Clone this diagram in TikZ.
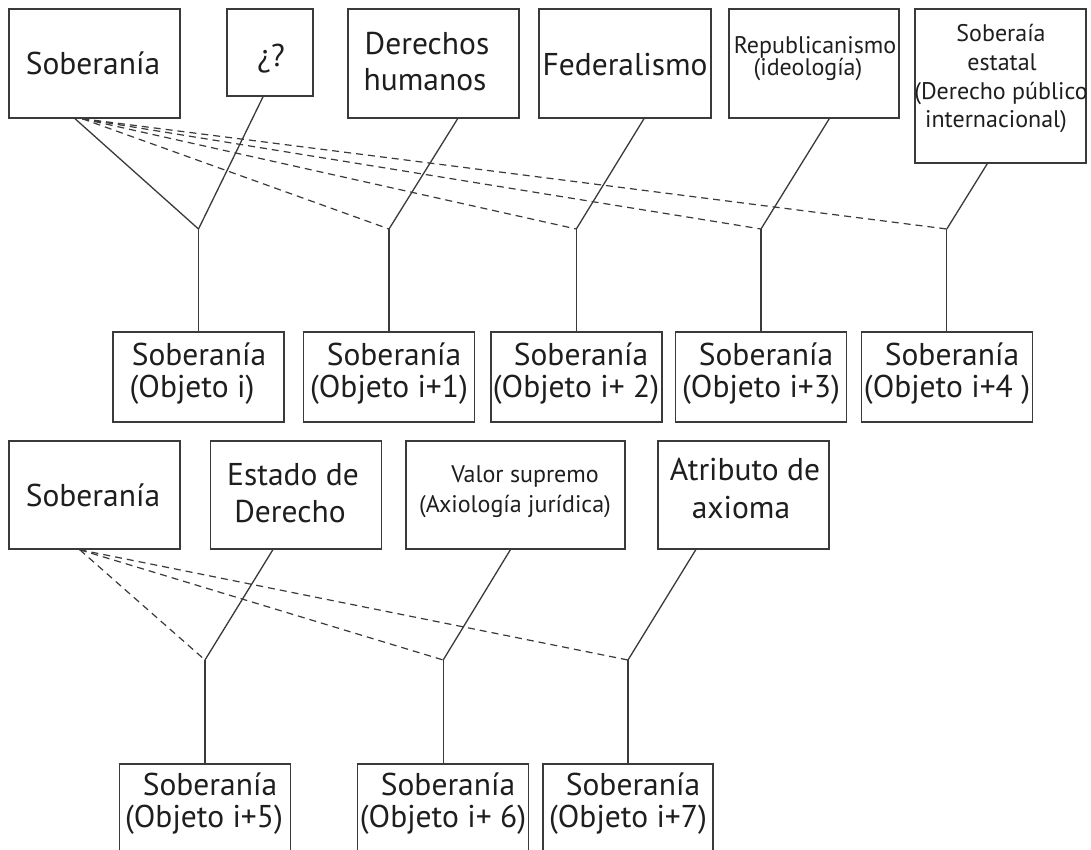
\documentclass[tikz,border=0pt]{standalone}
\usepackage{fontspec}
\setmainfont{PT Sans}
\usetikzlibrary{calc}
\definecolor{ink}{HTML}{1E1E1E}
\definecolor{wire}{HTML}{3A3A3A}
\begin{document}
\begin{tikzpicture}[x=1pt,y=-1pt,
  box/.style={draw=wire, line width=1.5pt, inner sep=0pt},
  big/.style={font=\fontsize{31.5}{31.5}\selectfont, text=ink, anchor=base, inner sep=0pt},
  small/.style={font=\fontsize{24}{24}\selectfont, text=ink, anchor=base, inner sep=0pt},
  link/.style={draw=wire, line width=1.3pt},
  dline/.style={draw=wire, line width=1.2pt, dash pattern=on 7pt off 5pt}]
\clip (0,0) rectangle (1091,850);
\fill[white] (0,0) rectangle (1091,850);

% ---------- upper group: concept boxes ----------
\node[box, minimum width=171pt, minimum height=109pt] (sob1) at (94.5,63.5) {};
\node[box, minimum width=86pt,  minimum height=87pt]  (q)    at (270,52.5) {};
\node[box, minimum width=171pt, minimum height=109pt] (dh)   at (433.5,63.5) {};
\node[box, minimum width=172pt, minimum height=109pt] (fed)  at (625,63.5) {};
\node[box, minimum width=170pt, minimum height=109pt] (rep)  at (814,63.5) {};
\node[box, minimum width=171pt, minimum height=154pt] (se)   at (1000.5,86) {};

\node[big] (t-sob1) at (93,75) {Soberanía};
\node[big] (t-q) at (271,67) {¿?};
\node[big] (t-dh1) at (427,55) {Derechos};
\node[big] (t-dh2) at (425,91) {humanos};
\node[big] (t-fed) at (625,76) {Federalismo};
\node[small] (t-rep1) at (815,54) {Republicanismo};
\node[small] (t-rep2) at (808,76) {(ideología)};
\node[small] (t-se1) at (1001,42) {Soberaía};
\node[small] (t-se2) at (1002,71) {estatal};
\node[small] (t-se3) at (1001,100) {(Derecho público};
\node[small] (t-se4) at (996,128) {internacional)};

% ---------- upper group: result boxes ----------
\node[box, minimum width=171pt, minimum height=90pt] (o0) at (198.5,377) {};
\node[box, minimum width=171pt, minimum height=90pt] (o1) at (389,377) {};
\node[box, minimum width=171pt, minimum height=90pt] (o2) at (576.3,377) {};
\node[box, minimum width=171pt, minimum height=90pt] (o3) at (761,377) {};
\node[box, minimum width=171pt, minimum height=90pt] (o4) at (946.8,377) {};

\node[big] (t-o0a) at (199,365) {Soberanía};
\node[big] (t-o0b) at (192,397) {(Objeto i)};
\node[big] (t-o1a) at (394,365) {Soberanía};
\node[big] (t-o1b) at (389,397) {(Objeto i+1)};
\node[big] (t-o2a) at (581,365) {Soberanía};
\node[big] (t-o2b) at (576,397) {(Objeto i+ 2)};
\node[big] (t-o3a) at (766,365) {Soberanía};
\node[big] (t-o3b) at (761,397) {(Objeto i+3)};
\node[big] (t-o4a) at (952,365) {Soberanía};
\node[big] (t-o4b) at (947,397) {(Objeto i+4 )};

% junction points
\coordinate (j1) at (198.5,229);
\coordinate (j2) at (389,229);
\coordinate (j3) at (576.3,229);
\coordinate (j4) at (761,229);
\coordinate (j5) at (946.8,229);

% solid branches
\draw[link] ([xshift=66.8pt]sob1.south west) -- (j1);
\draw[link] ([xshift=36.8pt]q.south west) -- (j1);
\draw[link] ([xshift=110.4pt]dh.south west) -- (j2);
\draw[link] ([xshift=105.7pt]fed.south west) -- (j3);
\draw[link] ([xshift=101pt]rep.south west) -- (j4);
\draw[link] ([xshift=73pt]se.south west) -- (j5);
% dashed branches from Soberanía
\draw[dline] ([xshift=74pt]sob1.south west) -- (j2);
\draw[dline] ([xshift=74pt]sob1.south west) -- (j3);
\draw[dline] ([xshift=74pt]sob1.south west) -- (j4);
\draw[dline] ([xshift=74pt]sob1.south west) -- (j5);
% stems
\draw[link] (j1) -- (j1 |- o0.north);
\draw[link] (j2) -- (j2 |- o1.north);
\draw[link] (j3) -- (j3 |- o2.north);
\draw[link] (j4) -- (j4 |- o3.north);
\draw[link] (j5) -- (j5 |- o4.north);

% ---------- lower group: concept boxes ----------
\node[box, minimum width=171pt, minimum height=108pt] (sob2) at (94.3,495) {};
\node[box, minimum width=171pt, minimum height=108pt] (edd)  at (296,495) {};
\node[box, minimum width=219pt, minimum height=108pt] (val)  at (515.4,495) {};
\node[box, minimum width=171pt, minimum height=108pt] (atr)  at (743.3,495) {};

\node[big] (t-sob2) at (93,506) {Soberanía};
\node[big] (t-edd1) at (293,485) {Estado de};
\node[big] (t-edd2) at (290,522) {Derecho};
\node[small] (t-val1) at (525,482) {Valor supremo};
\node[small] (t-val2) at (515,512) {(Axiología jurídica)};
\node[big] (t-atr1) at (745,480) {Atributo de};
\node[big] (t-atr2) at (741,518) {axioma};

% ---------- lower group: result boxes (run past the lower edge) ----------
\node[box, minimum width=171pt, minimum height=136pt] (o5) at (205,832) {};
\node[box, minimum width=171pt, minimum height=136pt] (o6) at (443.2,832) {};
\node[box, minimum width=170.4pt, minimum height=136pt] (o7) at (628,832) {};

\node[big] (t-o5a) at (210,795) {Soberanía};
\node[big] (t-o5b) at (204,827) {(Objeto i+5)};
\node[big] (t-o6a) at (448,795) {Soberanía};
\node[big] (t-o6b) at (443,827) {(Objeto i+ 6)};
\node[big] (t-o7a) at (633,795) {Soberanía};
\node[big] (t-o7b) at (628,827) {(Objeto i+7)};

\coordinate (k1) at (205,660);
\coordinate (k2) at (443.2,660);
\coordinate (k3) at (628,660);

\draw[link] ([xshift=63.1pt]edd.south west) -- (k1);
\draw[link] ([xshift=105.2pt]val.south west) -- (k2);
\draw[link] ([xshift=38.7pt]atr.south west) -- (k3);
\draw[dline] ([xshift=71.7pt]sob2.south west) -- (k1);
\draw[dline] ([xshift=71.7pt]sob2.south west) -- (k2);
\draw[dline] ([xshift=71.7pt]sob2.south west) -- (k3);
\draw[link] (k1) -- (k1 |- o5.north);
\draw[link] (k2) -- (k2 |- o6.north);
\draw[link] (k3) -- (k3 |- o7.north);
\end{tikzpicture}
\end{document}
